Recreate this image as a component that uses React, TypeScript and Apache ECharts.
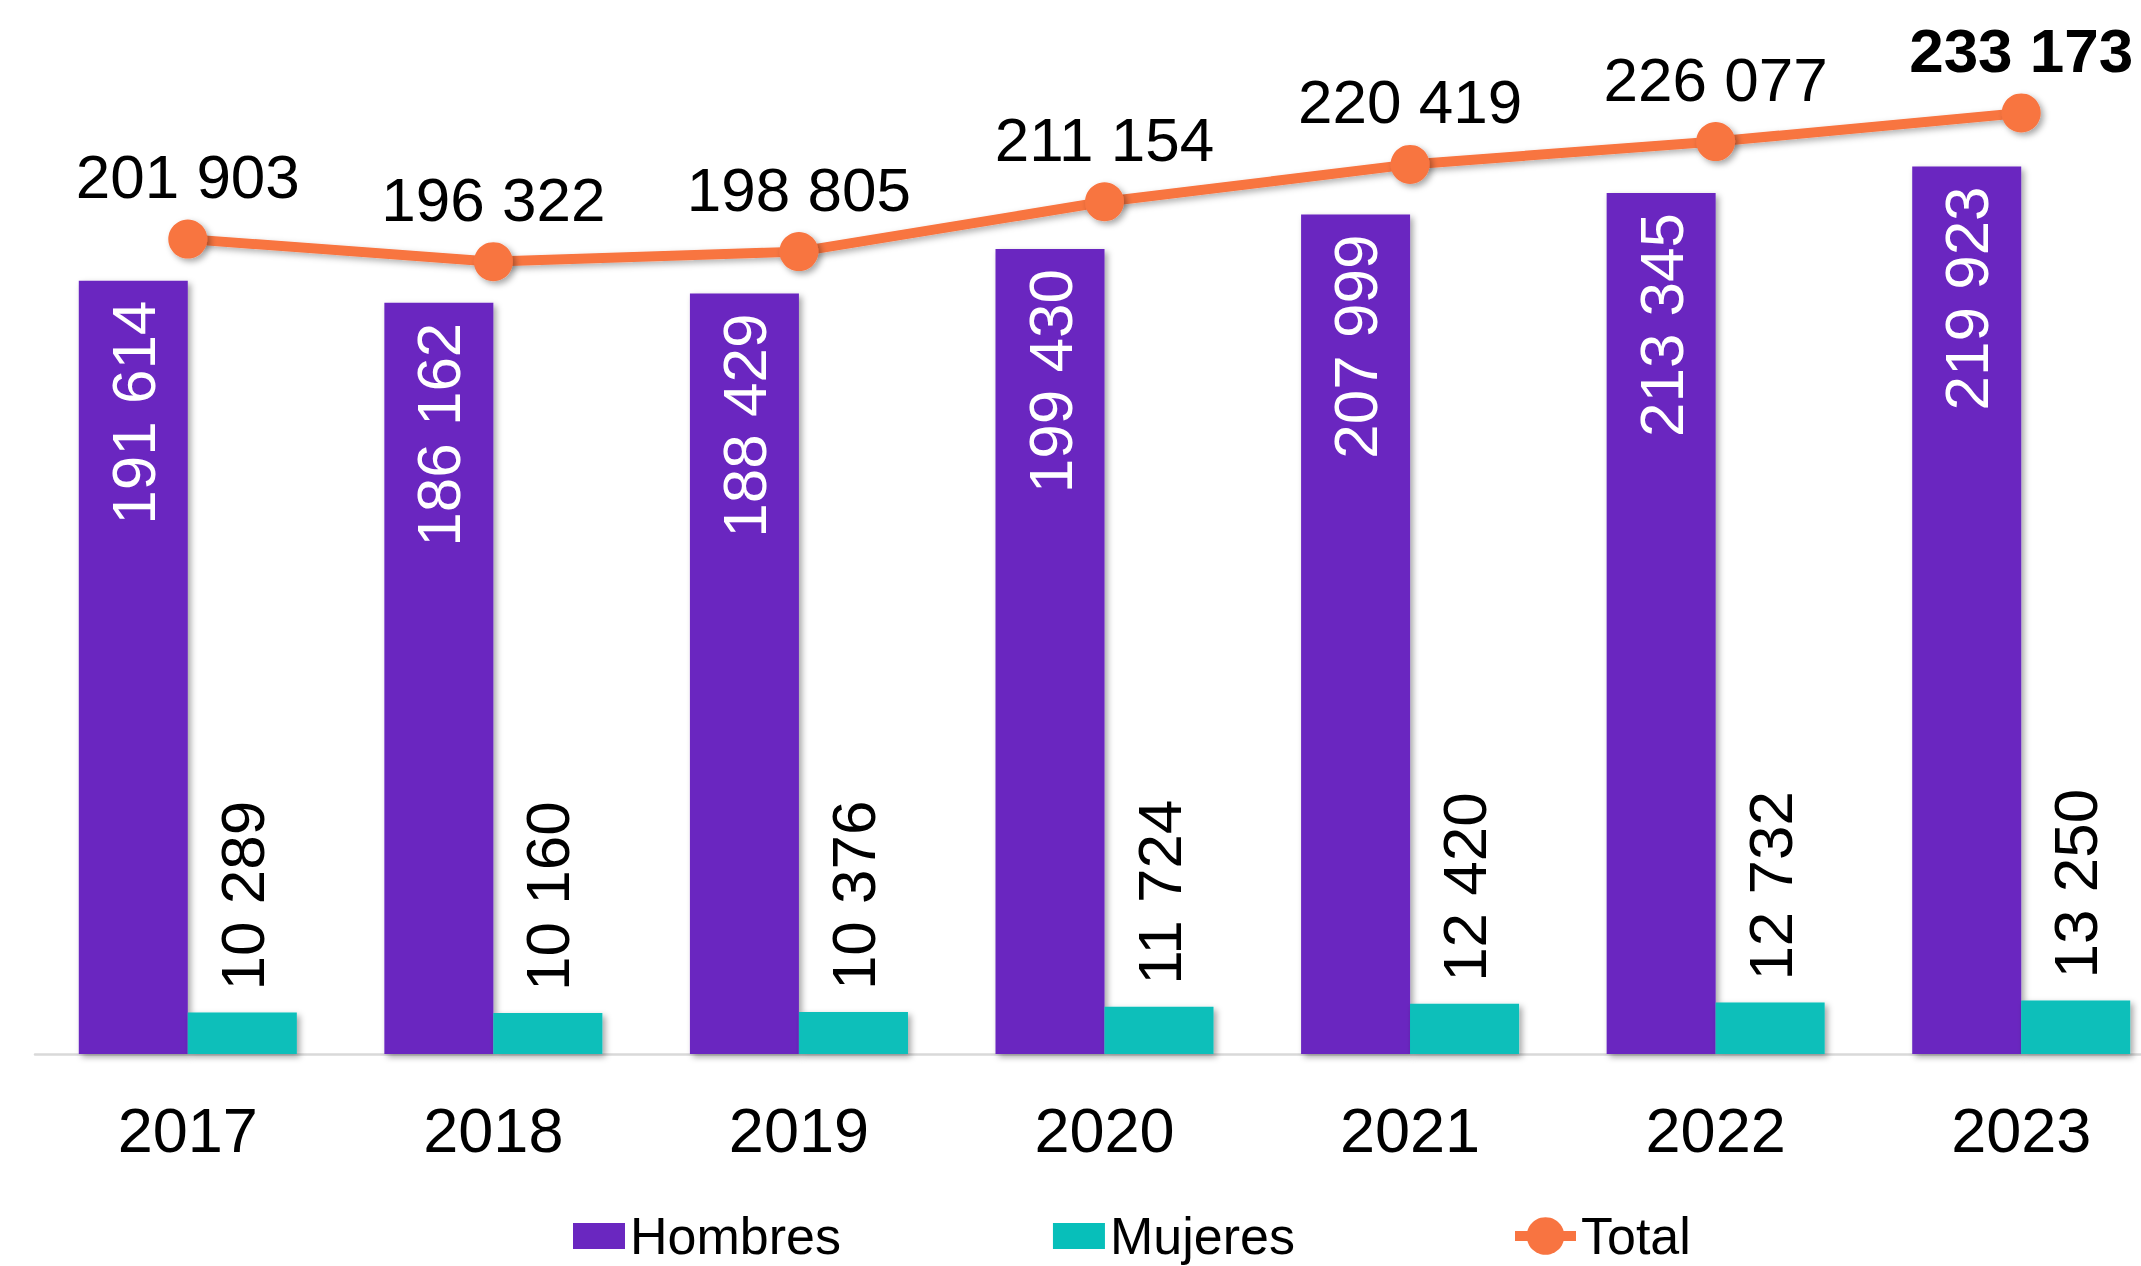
import React, { useEffect, useRef } from "react";
import * as echarts from "echarts";

const years = ["2017", "2018", "2019", "2020", "2021", "2022", "2023"];
const hombres = [191614, 186162, 188429, 199430, 207999, 213345, 219923];
const mujeres = [10289, 10160, 10376, 11724, 12420, 12732, 13250];
const total = [201903, 196322, 198805, 211154, 220419, 226077, 233173];

const COLOR_H = "#6A27C0";
const COLOR_M = "#07BFBA";
const COLOR_T = "#F87441";
const FONT = "'Liberation Sans', Arial, sans-serif";

const fmt = (v: number) => String(v).replace(/\B(?=(\d{3})+(?!\d))/g, " ");

export default function App() {
  const ref = useRef<HTMLDivElement>(null);
  useEffect(() => {
    if (!ref.current) return;
    const chart = echarts.init(ref.current, null, { renderer: "svg" });
    const barShadow = {
      shadowColor: "rgba(0,0,0,0.35)",
      shadowBlur: 6,
      shadowOffsetX: 3,
      shadowOffsetY: 3,
    };
    const legendText = { fontSize: 52, lineHeight: 52, color: "#000", fontFamily: FONT };
    chart.setOption({
      animation: false,
      backgroundColor: "#ffffff",
      textStyle: { fontFamily: FONT },
      grid: { left: 35, top: 45, right: 0, height: 1009, containLabel: false },
      legend: [
        {
          left: 568,
          top: 1205,
          itemWidth: 52,
          itemHeight: 26,
          itemGap: 212,
          icon: "rect",
          textStyle: legendText,
          data: ["Hombres", "Mujeres"],
        },
        {
          left: 1505,
          top: 1205,
          itemWidth: 61,
          itemHeight: 47,
          lineStyle: { width: 10 },
          textStyle: legendText,
          data: ["Total"],
        },
      ],
      xAxis: {
        type: "category",
        data: years,
        axisTick: { show: false },
        axisLine: { lineStyle: { color: "#D9D9D9", width: 2.5 } },
        axisLabel: { fontSize: 63, color: "#000", margin: 44, fontFamily: FONT },
      },
      yAxis: {
        type: "value",
        min: 0,
        max: 250000,
        show: false,
        splitLine: { show: false },
      },
      series: [
        {
          name: "Hombres",
          type: "bar",
          data: hombres,
          barWidth: 109,
          barGap: "0%",
          itemStyle: { color: COLOR_H, ...barShadow },
          label: {
            show: true,
            position: "insideTop",
            distance: 20,
            rotate: 90,
            align: "right",
            verticalAlign: "middle",
            fontSize: 62,
            color: "#fff",
            fontFamily: FONT,
            formatter: (p: any) => fmt(p.value),
          },
        },
        {
          name: "Mujeres",
          type: "bar",
          data: mujeres,
          barWidth: 109,
          barGap: "0%",
          itemStyle: { color: COLOR_M, ...barShadow },
          label: {
            show: true,
            position: "top",
            distance: 22,
            rotate: 90,
            align: "left",
            verticalAlign: "middle",
            fontSize: 62,
            color: "#000",
            fontFamily: FONT,
            formatter: (p: any) => fmt(p.value),
          },
        },
        {
          name: "Total",
          type: "line",
          data: total.map((v, i) =>
            i === total.length - 1
              ? { value: v, label: { fontWeight: "bold" } }
              : v
          ),
          symbol: "circle",
          symbolSize: 39,
          lineStyle: {
            color: COLOR_T,
            width: 10,
            shadowColor: "rgba(0,0,0,0.3)",
            shadowBlur: 6,
            shadowOffsetX: 3,
            shadowOffsetY: 3,
          },
          itemStyle: {
            color: COLOR_T,
            shadowColor: "rgba(0,0,0,0.35)",
            shadowBlur: 6,
            shadowOffsetX: 3,
            shadowOffsetY: 3,
          },
          label: {
            show: true,
            position: "top",
            distance: 12,
            fontSize: 62,
            color: "#000",
            fontFamily: FONT,
            formatter: (p: any) => fmt(p.value),
          },
          z: 5,
        },
      ],
    });
    return () => chart.dispose();
  }, []);
  return (
    <div
      style={{
        position: "fixed",
        left: 0,
        top: 0,
        width: 2141,
        height: 1266,
        overflow: "hidden",
        background: "#fff",
      }}
    >
      <div ref={ref} style={{ position: "absolute", left: 0, top: 0, width: 2174, height: 1266 }} />
    </div>
  );
}
